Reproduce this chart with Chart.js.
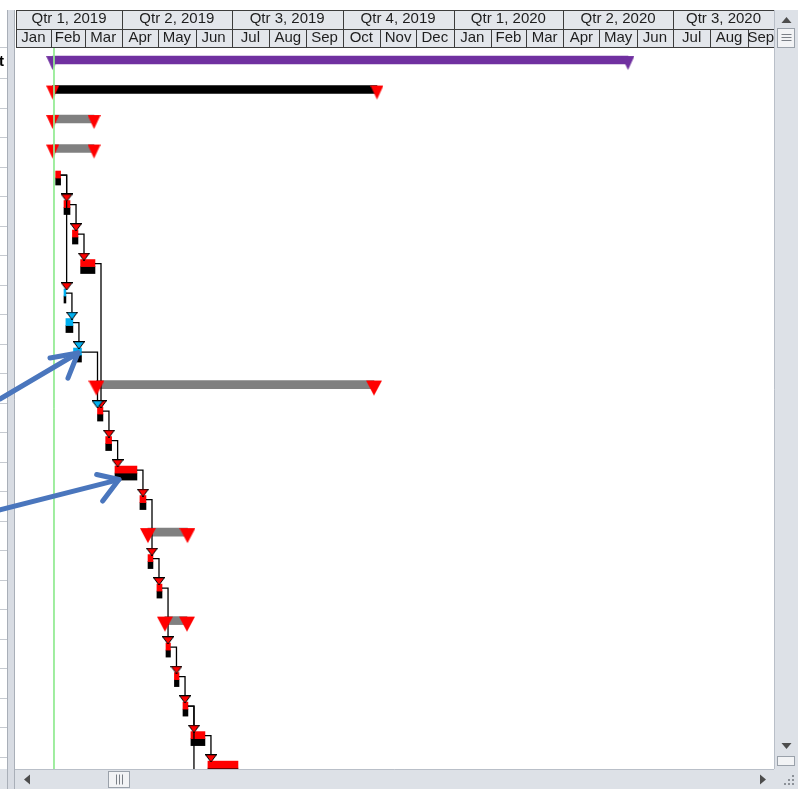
<!DOCTYPE html>
<html><head><meta charset="utf-8">
<script src="https://cdn.jsdelivr.net/npm/chart.js@4.4.1/dist/chart.umd.min.js"></script>
<style>html,body{margin:0;padding:0;background:#fff;overflow:hidden}canvas{display:block}</style>
</head><body>
<canvas id="c" width="798" height="789"></canvas>
<script>
// ---------------- timescale ----------------
const monthLabels = ['Jan','Feb','Mar','Apr','May','Jun','Jul','Aug','Sep','Oct','Nov','Dec','Jan','Feb','Mar','Apr','May','Jun','Jul','Aug','Sep'];
const quarterLabels = ['Qtr 1, 2019','Qtr 2, 2019','Qtr 3, 2019','Qtr 4, 2019','Qtr 1, 2020','Qtr 2, 2020','Qtr 3, 2020'];
const viewStartDay = 2.1;     // days since 1 Jan 2019
const viewEndDay = 630.8;
const statusDay = 33.6;       // green status line
const rowMin = -0.407, rowMax = 24.03;

// ---------------- summary bars ----------------
const summaryRows  = [0, 1, 2, 3, 11, 16, 19];
const summaryStart = [32.5, 32.5, 32.5, 32.5, 68.8, 111.5, 125.6];
const summaryEnd   = [509.7, 301.5, 66.8, 66.8, 299.0, 144.3, 143.9];
const summaryKind  = ['project', 'critical', 'phase', 'phase', 'group', 'group', 'group'];

// ---------------- tasks ----------------
const taskRows     = [4, 5, 6, 7, 8, 9, 10, 12, 13, 14, 15, 17, 18, 20, 21, 22, 23, 24, 25];
const taskStart    = [35.0, 41.9, 48.9, 55.7, 41.9, 43.5, 49.8, 69.7, 76.5, 84.2, 104.9, 111.6, 119.0, 126.5, 133.5, 140.6, 147.2, 161.3, 149.0];
const taskEnd      = [39.1, 46.9, 53.5, 67.6, 43.5, 49.3, 56.4, 74.2, 81.4, 102.4, 109.9, 115.7, 123.2, 130.2, 137.3, 144.7, 158.8, 186.2, 160.0];
const taskCritical = [true, true, true, true, false, false, false, true, true, true, true, true, true, true, true, true, true, true, true];

// ---------------- dependency links ----------------
const linkFrom = [4, 4, 5, 6, 7, 8, 9, 10, 12, 13, 14, 15, 17, 18, 20, 21, 22, 22, 23];
const linkTo   = [5, 8, 6, 7, 12, 9, 10, 12, 13, 14, 15, 17, 18, 20, 21, 22, 23, 25, 24];

// ---------------- annotation arrows (day, row) ----------------
const arrow1Shaft = [{x: -11.2, y: 11.49}, {x: 53.5, y: 9.93}];
const arrow1Head  = [{x: 30.3, y: 10.10}, {x: 53.5, y: 9.93}, {x: 45.2, y: 10.78}];
const arrow2Shaft = [{x: -11.2, y: 15.25}, {x: 87.5, y: 14.22}];
const arrow2Head  = [{x: 69.0, y: 14.05}, {x: 87.5, y: 14.22}, {x: 74.0, y: 14.95}];

// ---------------- helpers / styles ----------------
const DAY0 = Date.UTC(2019, 0, 1);
const dayOf = (y, m) => (Date.UTC(y, m, 1) - DAY0) / 86400000;
const monthBounds = []; for (let i = 0; i <= monthLabels.length; i++) monthBounds.push(dayOf(2019, i));
const quarterBounds = []; for (let i = 0; i <= quarterLabels.length; i++) quarterBounds.push(dayOf(2019, 3 * i));
const visMid = (a, b) => (Math.max(a, viewStartDay) + Math.min(b, viewEndDay)) / 2;
const monthTicks = monthLabels.map((_, i) => visMid(monthBounds[i], monthBounds[i + 1]));
const quarterTicks = quarterLabels.map((_, i) => visMid(quarterBounds[i], quarterBounds[i + 1]));

function triCanvas(w, h, top, tip, fill, stroke) {
  const c = document.createElement('canvas'); c.width = w; c.height = h;
  const g = c.getContext('2d');
  g.beginPath();
  if (stroke) { g.moveTo(0.5, top + 0.5); g.lineTo(w - 0.5, top + 0.5); g.lineTo(w / 2, tip); }
  else { g.moveTo(0, top); g.lineTo(w, top); g.lineTo(w / 2, tip); }
  g.closePath();
  g.fillStyle = fill; g.fill();
  if (stroke) { g.strokeStyle = stroke; g.lineWidth = 1; g.stroke(); g.beginPath(); g.moveTo(0, top + 0.5); g.lineTo(w, top + 0.5); g.lineWidth = 1.5; g.stroke(); }
  return c;
}
const RED = '#ff0000', BLUE = '#00b0f0', PURPLE = '#7030a0', GRAY = '#808080';
const kindStyle = {
  project:  {bar: PURPLE,  tri: triCanvas(13, 28, 10, 24, PURPLE)},
  critical: {bar: '#000000', tri: triCanvas(13, 28, 10, 24, RED)},
  phase:    {bar: GRAY,    tri: triCanvas(13, 28, 10, 24, RED)},
  group:    {bar: GRAY,    tri: triCanvas(16, 30, 11, 26, RED)}
};
const arrowRed = triCanvas(12, 8, 0, 8, RED, '#000');
const arrowBlue = triCanvas(12, 8, 0, 8, BLUE, '#000');
const linkJogDays = 5;

// ---------------- datasets ----------------
const datasets = [];
datasets.push({type: 'line', data: [{x: statusDay, y: rowMin - 1}, {x: statusDay, y: rowMax + 1}],
  borderColor: '#94ea94', borderWidth: 1, pointRadius: 0, order: 1});
[arrow1Shaft, arrow1Head, arrow2Shaft, arrow2Head].forEach(d => datasets.push({
  type: 'line', data: d, borderColor: '#4a76bd', borderWidth: 5, borderCapStyle: 'round', borderJoinStyle: 'round',
  pointRadius: 0, clip: false, tension: 0, order: 0}));
datasets.push({type: 'bar', indexAxis: 'y', grouped: false, barThickness: 8,
  data: summaryRows.map((r, i) => ({x: [summaryStart[i], summaryEnd[i]], y: r})),
  backgroundColor: summaryKind.map(k => kindStyle[k].bar), borderWidth: 0, order: 10});
const sumTriKinds = [];
const sumTriData = [];
summaryRows.forEach((r, i) => {
  sumTriData.push({x: summaryStart[i], y: r}); sumTriKinds.push(summaryKind[i]);
  sumTriData.push({x: summaryEnd[i], y: r}); sumTriKinds.push(summaryKind[i]);
});
datasets.push({type: 'scatter', data: sumTriData, pointRadius: 5,
  pointStyle: (ctx) => kindStyle[sumTriKinds[ctx.dataIndex]].tri, order: 6});
datasets.push({type: 'bar', indexAxis: 'y', barThickness: 7,
  data: taskRows.map((r, i) => ({x: [taskStart[i], taskEnd[i]], y: r})),
  backgroundColor: taskCritical.map(c => c ? RED : BLUE), borderWidth: 0, order: 9});
datasets.push({type: 'bar', indexAxis: 'y', barThickness: 7,
  data: taskRows.map((r, i) => ({x: [taskStart[i], taskEnd[i]], y: r})),
  backgroundColor: '#000000', borderWidth: 0, order: 9});
const arrowData = [], arrowStyles = [];
linkFrom.forEach((f, i) => {
  const fi = taskRows.indexOf(f), ti = taskRows.indexOf(linkTo[i]);
  const vx = Math.max(taskEnd[fi] + linkJogDays, taskStart[ti]);
  datasets.push({type: 'line', data: [{x: taskEnd[fi], y: f - 0.1}, {x: vx, y: f - 0.1}, {x: vx, y: linkTo[i] - 0.44}],
    borderColor: '#000', borderWidth: 1.3, pointRadius: 0, tension: 0, order: 8});
  arrowData.push({x: vx, y: linkTo[i] - 0.34});
  arrowStyles.push(taskCritical[fi] ? arrowRed : arrowBlue);
});
datasets.push({type: 'scatter', data: arrowData, pointRadius: 5,
  pointStyle: (ctx) => arrowStyles[ctx.dataIndex], order: 7});

// ---------------- chrome plugin ----------------
const SB = '#dde1e7', SBLINE = '#b9bfc8';
function poly(ctx, pts, fill) { ctx.beginPath(); ctx.moveTo(pts[0][0], pts[0][1]); for (let i = 1; i < pts.length; i++) ctx.lineTo(pts[i][0], pts[i][1]); ctx.closePath(); ctx.fillStyle = fill; ctx.fill(); }
const chrome = {
  id: 'chrome',
  beforeDraw(chart) {
    const ctx = chart.ctx, xs = chart.scales.x, xq = chart.scales.xq, ys = chart.scales.y, a = chart.chartArea;
    ctx.save();
    ctx.fillStyle = '#e3e6eb';
    ctx.fillRect(a.left, xq.top, a.right - a.left, xs.bottom - xq.top);
    ctx.strokeStyle = '#3c3c3c'; ctx.lineWidth = 1;
    ctx.beginPath();
    [xq.top, xs.top, xs.bottom - 1].forEach(y => { ctx.moveTo(a.left, Math.round(y) + 0.5); ctx.lineTo(a.right, Math.round(y) + 0.5); });
    ctx.moveTo(a.left + 0.5, xq.top); ctx.lineTo(a.left + 0.5, xs.bottom);
    monthBounds.forEach(b => { if (b > viewStartDay && b < viewEndDay) { const p = Math.round(xs.getPixelForValue(b)) + 0.5; ctx.moveTo(p, xs.top); ctx.lineTo(p, xs.bottom); } });
    quarterBounds.forEach(b => { if (b > viewStartDay && b < viewEndDay) { const p = Math.round(xs.getPixelForValue(b)) + 0.5; ctx.moveTo(p, xq.top); ctx.lineTo(p, xq.bottom); } });
    ctx.stroke();
    ctx.fillStyle = '#ffffff'; ctx.fillRect(0, 0, 7, chart.height);
    ctx.strokeStyle = '#c6cad0'; ctx.beginPath();
    ctx.moveTo(0, Math.round(xs.bottom) - 0.5); ctx.lineTo(7, Math.round(xs.bottom) - 0.5);
    for (let k = 0; k < 24; k++) { const y = Math.round(ys.getPixelForValue(k + 0.61)) + 0.5; if (y < a.bottom) { ctx.moveTo(0, y); ctx.lineTo(7, y); } }
    ctx.stroke();
    ctx.fillStyle = '#000'; ctx.font = 'bold 15px "Liberation Sans", Arial, sans-serif'; ctx.textBaseline = 'middle'; ctx.textAlign = 'right';
    ctx.fillText('t', 4, ys.getPixelForValue(0) + 2);
    ctx.fillStyle = SB; ctx.fillRect(0, a.bottom, 7, chart.height - a.bottom);
    ctx.fillStyle = '#d8dce3'; ctx.fillRect(7, xq.top, 8, chart.height - xq.top);
    ctx.strokeStyle = '#a9afb8'; ctx.beginPath();
    ctx.moveTo(7.5, xq.top); ctx.lineTo(7.5, chart.height); ctx.moveTo(14.5, xq.top); ctx.lineTo(14.5, chart.height); ctx.stroke();
    ctx.restore();
  },
  afterDraw(chart) {
    const ctx = chart.ctx, a = chart.chartArea, W = chart.width, H = chart.height, top = chart.scales.xq.top;
    ctx.save();
    ctx.fillStyle = SB; ctx.fillRect(a.right, top, W - a.right, H - top);
    ctx.strokeStyle = SBLINE; ctx.lineWidth = 1;
    ctx.beginPath(); ctx.moveTo(a.right + 0.5, top); ctx.lineTo(a.right + 0.5, a.bottom); ctx.stroke();
    const cx = (a.right + W) / 2 + 0.5;
    poly(ctx, [[cx - 5, top + 13], [cx + 5, top + 13], [cx, top + 7]], '#4d4d4d');
    ctx.fillStyle = '#f2f3f5'; ctx.fillRect(a.right + 3, top + 18, W - a.right - 6, 20);
    ctx.strokeStyle = '#9aa1aa'; ctx.strokeRect(a.right + 3.5, top + 18.5, W - a.right - 7, 19);
    ctx.strokeStyle = '#7a7f86'; ctx.beginPath();
    [24, 27, 30].forEach(d => { ctx.moveTo(cx - 5, top + d + 0.5); ctx.lineTo(cx + 5, top + d + 0.5); }); ctx.stroke();
    poly(ctx, [[cx - 5, a.bottom - 26], [cx + 5, a.bottom - 26], [cx, a.bottom - 20]], '#4d4d4d');
    ctx.fillStyle = '#f2f3f5'; ctx.fillRect(a.right + 3, a.bottom - 13, W - a.right - 6, 10);
    ctx.strokeStyle = '#9aa1aa'; ctx.strokeRect(a.right + 3.5, a.bottom - 12.5, W - a.right - 7, 9);
    ctx.fillStyle = SB; ctx.fillRect(15, a.bottom, a.right - 15, H - a.bottom);
    ctx.strokeStyle = SBLINE; ctx.beginPath(); ctx.moveTo(15, a.bottom + 0.5); ctx.lineTo(a.right, a.bottom + 0.5); ctx.stroke();
    const cy = (a.bottom + H) / 2 + 0.5;
    poly(ctx, [[a.left + 14, cy - 5], [a.left + 14, cy + 5], [a.left + 8, cy]], '#4d4d4d');
    poly(ctx, [[a.right - 14, cy - 5], [a.right - 14, cy + 5], [a.right - 8, cy]], '#4d4d4d');
    ctx.fillStyle = '#f2f3f5'; ctx.fillRect(108, a.bottom + 2, 22, H - a.bottom - 3);
    ctx.strokeStyle = '#9aa1aa'; ctx.strokeRect(108.5, a.bottom + 2.5, 21, H - a.bottom - 4);
    ctx.strokeStyle = '#7a7f86'; ctx.beginPath();
    [116, 119, 122].forEach(x => { ctx.moveTo(x + 0.5, cy - 5); ctx.lineTo(x + 0.5, cy + 5); }); ctx.stroke();
    ctx.fillStyle = SB; ctx.fillRect(a.right, a.bottom, W - a.right, H - a.bottom);
    ctx.fillStyle = '#8c9198';
    [[W - 6, H - 6], [W - 10, H - 6], [W - 14, H - 6], [W - 6, H - 10], [W - 10, H - 10], [W - 6, H - 14]].forEach(p => ctx.fillRect(p[0], p[1], 2, 2));
    ctx.restore();
  }
};

// ---------------- chart ----------------
Chart.defaults.font.family = '"Liberation Sans", Arial, sans-serif';
new Chart(document.getElementById('c'), {
  type: 'bar',
  data: {datasets},
  plugins: [chrome],
  options: {
    responsive: false, animation: false, devicePixelRatio: 1, events: [],
    layout: {padding: {left: 16, right: 24, top: 10, bottom: 20}},
    plugins: {legend: {display: false}, tooltip: {enabled: false}},
    scales: {
      x: {type: 'linear', position: 'top', offset: false, min: viewStartDay, max: viewEndDay, weight: 1,
        grid: {display: false, drawTicks: false, offset: false}, border: {display: false},
        afterBuildTicks: (s) => { s.ticks = monthTicks.map(v => ({value: v})); },
        afterFit: (s) => { s.height = 19; },
        ticks: {autoSkip: false, maxRotation: 0, minRotation: 0, padding: 1, color: '#1e1e1e',
          font: {size: 15}, callback: (v, i) => monthLabels[i]}},
      xq: {type: 'linear', position: 'top', offset: false, min: viewStartDay, max: viewEndDay, weight: 2,
        grid: {display: false, drawTicks: false, offset: false}, border: {display: false},
        afterBuildTicks: (s) => { s.ticks = quarterTicks.map(v => ({value: v})); },
        afterFit: (s) => { s.height = 19; },
        ticks: {autoSkip: false, maxRotation: 0, minRotation: 0, padding: 1, color: '#1e1e1e',
          font: {size: 15}, callback: (v, i) => quarterLabels[i]}},
      y: {type: 'linear', reverse: true, offset: false, min: rowMin, max: rowMax, display: false,
        grid: {offset: false}}
    }
  }
});
</script>
</body></html>
